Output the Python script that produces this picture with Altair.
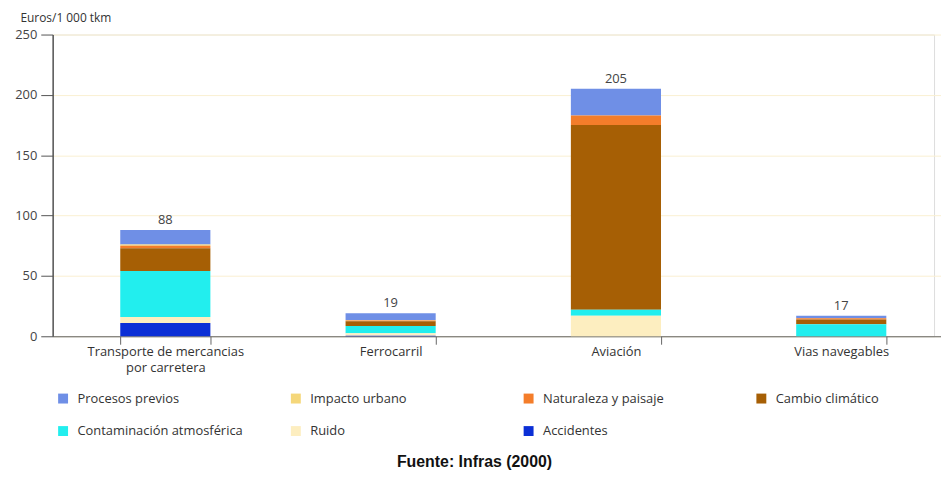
import altair as alt
import pandas as pd

categories = ["Transporte de mercancias por carretera", "Ferrocarril", "Aviación", "Vias navegables"]
components = ["Procesos previos", "Impacto urbano", "Naturaleza y paisaje", "Cambio climático",
              "Contaminación atmosférica", "Ruido", "Accidentes"]
colors = ["#6f8fe6", "#f5d77a", "#f47d2a", "#a65f05", "#22eeee", "#fdeec0", "#0b2fd6"]
stack_rank = [7, 6, 5, 4, 3, 2, 1]  # 1 = bottom of stack
# legend entries are filled column by column (2 rows x 4 columns)
legend_order = ["Procesos previos", "Contaminación atmosférica", "Impacto urbano", "Ruido",
                "Naturaleza y paisaje", "Accidentes", "Cambio climático"]

procesos = [12, 5.5, 22, 2]
impacto = [1, 0.5, 0, 0]
naturaleza = [2, 0.5, 8, 1]
cambio = [19, 4, 153, 4]
contaminacion = [38, 6, 5, 10]
ruido = [5, 2, 17, 0]
accidentes = [11, 0.5, 0, 0]
totals = [88, 19, 205, 17]

series = [procesos, impacto, naturaleza, cambio, contaminacion, ruido, accidentes]

rows = []
for comp, rank, vals in zip(components, stack_rank, series):
    for cat, v in zip(categories, vals):
        rows.append({"category": cat, "component": comp, "rank": rank, "value": v})
df = pd.DataFrame(rows)
tot = pd.DataFrame({"category": categories, "total": totals})

color_map = dict(zip(components, colors))
legend_colors = [color_map[c] for c in legend_order]

xscale = alt.Scale(domain=categories, range=[0, 908], paddingInner=0.6, paddingOuter=0.3)

label_expr = ("datum.value == 'Transporte de mercancias por carretera' ? "
              "['Transporte de mercancias', 'por carretera'] : datum.label")

bars = alt.Chart(df).mark_bar(strokeWidth=0).encode(
    x=alt.X("category:N", sort=categories, scale=xscale,
            axis=alt.Axis(title=None, labelAngle=0, tickBand="extent", tickSize=8,
                          domainColor="#666", tickColor="#666", domainWidth=1.2,
                          labelFont="Open Sans", labelFontSize=13, labelColor="#333",
                          labelLineHeight=16, labelPadding=1, labelExpr=label_expr)),
    y=alt.Y("value:Q", stack="zero", scale=alt.Scale(domain=[0, 250], nice=False),
            axis=alt.Axis(values=[0, 50, 100, 150, 200, 250], title="Euros/1 000 tkm",
                          titleAngle=0, titleAlign="left", titleBaseline="middle",
                          titleX=-33, titleY=-17, titleFont="Open Sans", titleFontSize=12,
                          titleFontWeight="normal", titleColor="#333",
                          gridColor="#faf0d2", domainColor="#555", domainWidth=1.5,
                          tickColor="#555", tickSize=12, labelFont="Open Sans",
                          labelFontSize=13, labelColor="#444", labelPadding=4)),
    color=alt.Color("component:N", scale=alt.Scale(domain=legend_order, range=legend_colors),
                    legend=alt.Legend(title=None, orient="none", legendX=4, legendY=360,
                                      columns=4, gridAlign="all", columnPadding=46.5,
                                      rowPadding=19, symbolType="square", symbolSize=100,
                                      symbolStrokeWidth=0, labelFont="Open Sans",
                                      labelFontSize=13, labelColor="#333", labelOffset=8,
                                      labelLimit=300)),
    order=alt.Order("rank:Q", sort="ascending"),
)

text = alt.Chart(tot).mark_text(dy=-10, font="Open Sans", fontSize=13, color="#444").encode(
    x=alt.X("category:N", sort=categories, scale=xscale),
    y=alt.Y("total:Q"),
    text=alt.Text("total:Q"),
)

chart = alt.layer(bars, text).properties(
    width=888, height=304,
    autosize=alt.AutoSizeParams(type="none"),
    padding={"left": 45, "top": 25, "right": 7, "bottom": 134},
    title=alt.TitleParams("Fuente: Infras (2000)", orient="bottom", font="Liberation Sans",
                          fontSize=16, fontWeight="bold", color="#111", anchor="middle",
                          dx=-19, offset=16),
).configure_view(stroke=None).configure(background="white")

chart.save("out.html", embed_options={"renderer": "svg", "actions": False})
